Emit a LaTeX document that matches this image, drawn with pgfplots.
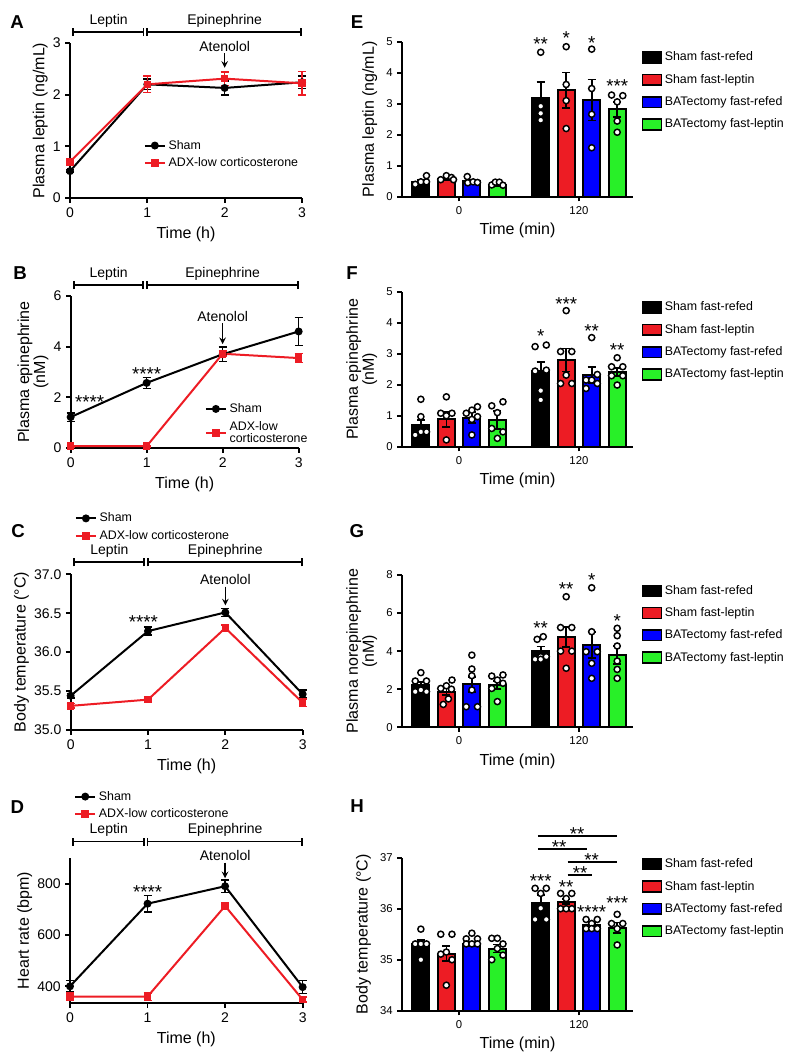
\documentclass[border=0pt]{standalone}
\usepackage{fontspec}
\setmainfont{Liberation Sans}
\usepackage{pgfplots}
\pgfplotsset{compat=1.18}

\definecolor{myred}{RGB}{237,28,36}
\definecolor{myblue}{RGB}{0,0,255}
\definecolor{mygreen}{RGB}{40,240,40}

\newcommand{\fs}[1]{\fontsize{#1}{#1}\selectfont}
% significance stars
\newcommand{\sig}[3]{\node[font=\fs{14}, inner sep=0pt, yshift=-3.2pt] at (axis cs:#1,#2) {#3};}
% treatment bracket over the line charts: x1, x2, y
\newcommand{\tb}[3]{%
  \draw[line width=1.3pt] (axis cs:#1,#3) -- (axis cs:#2,#3);
  \draw[line width=1.3pt] ([yshift=-3pt]axis cs:#1,#3) -- ([yshift=3pt]axis cs:#1,#3);
  \draw[line width=1.3pt] ([yshift=-3pt]axis cs:#2,#3) -- ([yshift=3pt]axis cs:#2,#3);}
\newcommand{\tlab}[3]{\node[font=\fs{10.5}] at ([yshift=8.5pt]axis cs:#1,#2) {#3};}
\newcommand{\aten}[3]{%
  \node[font=\fs{10.5}] at (axis cs:2,#1) {Atenolol};
  \draw[-stealth, line width=1.2pt] (axis cs:2,#2) -- (axis cs:2,#3);}

\pgfplotsset{
  base/.style={scale only axis, axis lines=left, axis line style={-, line width=1.7pt},
    tick style={black, line width=1.3pt}, tick align=outside, major tick length=3.5pt,
    /pgf/number format/assume math mode=true},
  lineax/.style={base, width=174pt, xmin=0, xmax=3, xtick={0,1,2,3}, clip=false,
    xlabel={Time (h)}, xlabel style={font=\fs{12}},
    ylabel style={font=\fs{12}, align=center}, ylabel shift=-3pt,
    tick label style={font=\fs{10.5}},
    legend cell align=left,
    legend style={draw=none, fill=none, font=\fs{9.3}, row sep=1pt, anchor=north west, cells={align=left}},
    legend image code/.code={\draw[mark repeat=2, mark phase=2, ##1] plot coordinates {(0pt,0pt) (7.5pt,0pt) (15pt,0pt)};}},
  sham/.style={black, line width=1.5pt, mark=*, mark size=2.2pt,
    error bars/y dir=both, error bars/y explicit,
    error bars/error bar style={line width=1.2pt, solid},
    error bars/error mark options={rotate=90, mark size=3pt, line width=1.2pt}},
  adx/.style={sham, myred, mark=square*, mark size=2.1pt},
  barax/.style={base, width=173.25pt, xmin=-2.24, xmax=6.82, xtick={0,4.7}, xticklabels={0,120},
    clip=true, clip mode=individual,
    xlabel={Time (min)}, xlabel style={font=\fs{12}},
    ylabel style={font=\fs{12}, align=center},
    tick label style={font=\fs{8.5}},
    legend cell align=left,
    legend style={draw=none, fill=none, font=\fs{9.3}, row sep=4.5pt, at={(1.02,0.97)}, anchor=north west}},
  bar/.style={ybar, bar width=0.66, bar shift=0pt, fill=#1, draw=black, line width=1.5pt,
    error bars/y dir=both, error bars/y explicit,
    error bars/error bar style={line width=1.3pt, black},
    error bars/error mark options={rotate=90, mark size=3pt, line width=1.3pt, black},
    legend image code/.code={\draw[fill=#1, draw=black, line width=1.2pt] (0pt,-4pt) rectangle (14pt,4pt);}},
  dots/.style={forget plot, only marks, mark=*, mark size=2.3pt, mark options={fill=white, draw=black, line width=1.1pt}},
}

\begin{document}
\begin{tikzpicture}
\useasboundingbox (0,0) rectangle (591.75pt,795.75pt);

% panel letters
\begin{scope}[every node/.style={font=\bfseries\fs{14}}]
\node at (12.75pt,779.25pt) {A};
\node at (15pt,591pt) {B};
\node at (13.5pt,397.5pt) {C};
\node at (13.1pt,190.7pt) {D};
\node at (267.75pt,779.5pt) {E};
\node at (264pt,591pt) {F};
\node at (267.75pt,397.5pt) {G};
\node at (267.75pt,191.4pt) {H};
\end{scope}

% ---------------- A
\begin{axis}[lineax, at={(52.5pt,647.25pt)}, anchor=south west, height=116.25pt,
  ymin=0, ymax=3, ytick={0,1,2,3}, ylabel={Plasma leptin (ng/mL)},
  legend style={at={(0.30,0.41)}}]
\addplot[sham] coordinates {(0,0.52) +- (0,0.03) (1,2.2) +- (0,0.1) (2,2.13) +- (0,0.14) (3,2.24) +- (0,0.12)};
\addlegendentry{Sham}
\addplot[adx] coordinates {(0,0.7) +- (0,0.06) (1,2.2) +- (0,0.16) (2,2.31) +- (0,0.13) (3,2.22) +- (0,0.23)};
\addlegendentry{ADX-low corticosterone}
\tb{0.04}{0.95}{3.21}\tb{1.0}{2.99}{3.21}
\tlab{0.5}{3.21}{Leptin}\tlab{2}{3.21}{Epinephrine}
\aten{2.93}{2.80}{2.52}
\end{axis}

% ---------------- B
\begin{axis}[lineax, at={(53pt,459.75pt)}, anchor=south west, width=171pt, height=114pt,
  ymin=0, ymax=6, ytick={0,2,4,6}, ylabel={Plasma epinephrine\\(nM)},
  legend style={at={(0.57,0.33)}}]
\addplot[sham] coordinates {(0,1.22) +- (0,0.17) (1,2.57) +- (0,0.22) (2,3.7) +- (0,0.28) (3,4.6) +- (0,0.55)};
\addlegendentry{Sham}
\addplot[adx] coordinates {(0,0.07) +- (0,0.02) (1,0.07) +- (0,0.02) (2,3.72) +- (0,0.1) (3,3.55) +- (0,0.18)};
\addlegendentry{ADX-low\\corticosterone}
\tb{0.04}{0.95}{6.43}\tb{1.0}{2.99}{6.43}
\tlab{0.5}{6.43}{Leptin}\tlab{2}{6.43}{Epinephrine}
\aten{5.18}{4.93}{4.1}
\sig{0.25}{2.0}{****}
\sig{1.0}{3.08}{****}
\end{axis}

% ---------------- C
\begin{axis}[lineax, at={(53pt,248.25pt)}, anchor=south west, height=116.8pt,
  ymin=35, ymax=37, ytick={35,35.5,36,36.5,37}, ylabel={Body temperature (°C)},
  yticklabel style={/pgf/number format/fixed, /pgf/number format/fixed zerofill, /pgf/number format/precision=1},
  legend style={at={(0.0,1.43)}}]
\addplot[sham] coordinates {(0,35.44) +- (0,0.03) (1,36.27) +- (0,0.05) (2,36.51) +- (0,0.05) (3,35.46) +- (0,0.05)};
\addlegendentry{Sham}
\addplot[adx] coordinates {(0,35.31) +- (0,0.03) (1,35.39) +- (0,0.03) (2,36.31) +- (0,0.04) (3,35.35) +- (0,0.05)};
\addlegendentry{ADX-low corticosterone}
\tb{0.04}{0.95}{37.154}\tb{1.0}{2.99}{37.154}
\tlab{0.5}{37.154}{Leptin}\tlab{2}{37.154}{Epinephrine}
\aten{36.93}{36.84}{36.6}
\sig{0.94}{36.44}{****}
\end{axis}

% ---------------- D
\begin{axis}[lineax, at={(52.5pt,43.5pt)}, anchor=south west, width=174.5pt, height=108.75pt,
  ymin=335, ymax=900, ytick={400,600,800}, ylabel={Heart rate (bpm)},
  legend style={at={(0.0,1.5)}}]
\addplot[sham] coordinates {(0,400) +- (0,22) (1,722) +- (0,32) (2,790) +- (0,25) (3,397) +- (0,25)};
\addlegendentry{Sham}
\addplot[adx] coordinates {(0,360) +- (0,15) (1,360) +- (0,15) (2,713) +- (0,12) (3,348) +- (0,10)};
\addlegendentry{ADX-low corticosterone}
\tb{0.04}{0.95}{964}\tb{1.0}{2.99}{964}
\tlab{0.5}{964}{Leptin}\tlab{2}{964}{Epinephrine}
\aten{908}{882}{821}
\sig{1.0}{782}{****}
\end{axis}

% ---------------- E
\begin{axis}[barax, at={(301.5pt,648.2pt)}, anchor=south west, height=116.25pt,
  ymin=0, ymax=5, ytick={0,1,2,3,4,5}, ylabel={Plasma leptin (ng/mL)}]
\addplot[bar=black] coordinates {(-1.5,0.48) +- (0,0.06) (3.2,3.19) +- (0,0.52)};
\addlegendentry{Sham fast-refed}
\addplot[bar=myred] coordinates {(-0.5,0.56) +- (0,0.04) (4.2,3.44) +- (0,0.57)};
\addlegendentry{Sham fast-leptin}
\addplot[bar=myblue] coordinates {(0.5,0.50) +- (0,0.05) (5.2,3.12) +- (0,0.66)};
\addlegendentry{BATectomy fast-refed}
\addplot[bar=mygreen] coordinates {(1.5,0.38) +- (0,0.03) (6.2,2.82) +- (0,0.24)};
\addlegendentry{BATectomy fast-leptin}
\addplot[dots] coordinates {(-1.72,0.40) (-1.5,0.48) (-1.28,0.48) (-1.28,0.68) (3.2,4.66) (3.2,2.92) (3.2,2.69) (3.2,2.47)};
\addplot[dots] coordinates {(-0.72,0.55) (-0.5,0.68) (-0.3,0.62) (-0.22,0.55) (4.2,4.84) (4.2,3.62) (4.2,3.1) (4.2,2.2)};
\addplot[dots] coordinates {(0.32,0.65) (0.34,0.45) (0.55,0.48) (0.72,0.46) (5.2,4.76) (5.2,3.49) (5.2,2.66) (5.2,1.58)};
\addplot[dots] coordinates {(1.28,0.38) (1.42,0.47) (1.58,0.47) (1.72,0.37) (5.98,3.28) (6.42,3.26) (6.2,3.06) (6.2,2.44) (6.2,2.08)};
\sig{3.2}{5.05}{**}\sig{4.2}{5.27}{*}\sig{5.2}{5.1}{*}\sig{6.2}{3.72}{***}
\end{axis}

% ---------------- F
\begin{axis}[barax, at={(301.5pt,460.7pt)}, anchor=south west, height=116.25pt,
  ymin=0, ymax=5, ytick={0,1,2,3,4,5}, ylabel={Plasma epinephrine\\(nM)}]
\addplot[bar=black] coordinates {(-1.5,0.70) +- (0,0.16) (3.2,2.44) +- (0,0.30)};
\addlegendentry{Sham fast-refed}
\addplot[bar=myred] coordinates {(-0.5,0.88) +- (0,0.25) (4.2,2.8) +- (0,0.37)};
\addlegendentry{Sham fast-leptin}
\addplot[bar=myblue] coordinates {(0.5,0.94) +- (0,0.17) (5.2,2.31) +- (0,0.27)};
\addlegendentry{BATectomy fast-refed}
\addplot[bar=mygreen] coordinates {(1.5,0.86) +- (0,0.29) (6.2,2.4) +- (0,0.13)};
\addlegendentry{BATectomy fast-leptin}
\addplot[dots] coordinates {(-1.5,1.53) (-1.5,0.97) (-1.72,0.38) (-1.5,0.48) (-1.28,0.48) (2.98,3.23) (3.42,3.28) (2.98,2.44) (3.42,2.47) (3.2,1.81) (3.2,1.51)};
\addplot[dots] coordinates {(-0.5,1.61) (-0.72,1.08) (-0.28,1.08) (-0.5,1.0) (-0.5,0.22) (4.2,4.39) (3.98,3.07) (4.42,3.07) (4.2,2.31) (3.98,2.04) (4.42,2.04)};
\addplot[dots] coordinates {(0.28,1.08) (0.5,1.18) (0.72,1.29) (0.72,0.97) (0.5,0.88) (0.5,0.38) (5.2,3.52) (5.42,2.33) (4.98,2.15) (5.2,2.15) (5.42,2.04) (4.98,1.88)};
\addplot[dots] coordinates {(1.28,1.32) (1.72,1.45) (1.5,1.1) (1.28,0.59) (1.72,0.48) (1.5,0.27) (6.2,2.87) (5.98,2.58) (6.42,2.58) (5.98,2.29) (6.42,2.29) (6.2,1.99)};
\sig{3.2}{3.71}{*}\sig{4.2}{4.73}{***}\sig{5.2}{3.87}{**}\sig{6.2}{3.25}{**}
\end{axis}

% ---------------- G
\begin{axis}[barax, at={(301.5pt,250.3pt)}, anchor=south west, height=114.2pt,
  ymin=0, ymax=8, ytick={0,2,4,6,8}, ylabel={Plasma norepinephrine\\(nM)}]
\addplot[bar=black] coordinates {(-1.5,2.22) +- (0,0.15) (3.2,4.01) +- (0,0.23)};
\addlegendentry{Sham fast-refed}
\addplot[bar=myred] coordinates {(-0.5,1.87) +- (0,0.18) (4.2,4.73) +- (0,0.52)};
\addlegendentry{Sham fast-leptin}
\addplot[bar=myblue] coordinates {(0.5,2.26) +- (0,0.4) (5.2,4.33) +- (0,0.69)};
\addlegendentry{BATectomy fast-refed}
\addplot[bar=mygreen] coordinates {(1.5,2.22) +- (0,0.2) (6.2,3.8) +- (0,0.47)};
\addlegendentry{BATectomy fast-leptin}
\addplot[dots] coordinates {(-1.5,2.87) (-1.72,2.43) (-1.28,2.43) (-1.72,1.87) (-1.5,1.96) (-1.28,1.87) (3.06,4.62) (3.3,4.76) (2.98,3.57) (3.2,3.71) (3.42,3.71) (3.2,3.57)};
\addplot[dots] coordinates {(-0.28,2.48) (-0.72,2.04) (-0.5,2.18) (-0.3,2.0) (-0.62,1.2) (-0.42,1.49) (4.2,6.86) (3.98,5.24) (4.42,5.24) (3.98,4.0) (4.42,4.0) (4.2,3.1)};
\addplot[dots] coordinates {(0.5,3.79) (0.5,3.06) (0.5,2.71) (0.5,1.96) (0.28,1.08) (0.72,1.08) (5.2,7.33) (5.2,5.02) (4.98,3.97) (5.42,3.97) (5.2,3.36) (5.2,2.57)};
\addplot[dots] coordinates {(1.28,2.69) (1.72,2.75) (1.5,2.48) (1.72,2.31) (1.28,2.04) (1.5,1.35) (6.2,5.2) (6.2,4.81) (6.2,4.27) (6.2,3.48) (6.2,3.04) (6.2,2.57)};
\sig{3.2}{5.41}{**}\sig{4.2}{7.47}{**}\sig{5.2}{7.96}{*}\sig{6.2}{5.81}{*}
\end{axis}

% ---------------- H
\begin{axis}[barax, at={(301.5pt,37.7pt)}, anchor=south west, height=114.75pt,
  ymin=34, ymax=37, ytick={34,35,36,37}, ylabel={Body temperature (°C)},
  legend style={at={(1.02,1.03)}}]
\addplot[bar=black] coordinates {(-1.5,35.3) +- (0,0.08) (3.2,36.12) +- (0,0.15)};
\addlegendentry{Sham fast-refed}
\addplot[bar=myred] coordinates {(-0.5,35.12) +- (0,0.15) (4.2,36.14) +- (0,0.05)};
\addlegendentry{Sham fast-leptin}
\addplot[bar=myblue] coordinates {(0.5,35.3) +- (0,0.04) (5.2,35.68) +- (0,0.04)};
\addlegendentry{BATectomy fast-refed}
\addplot[bar=mygreen] coordinates {(1.5,35.22) +- (0,0.08) (6.2,35.63) +- (0,0.1)};
\addlegendentry{BATectomy fast-leptin}
\addplot[dots] coordinates {(-1.5,35.6) (-1.72,35.31) (-1.5,35.31) (-1.28,35.31) (-1.5,35.0) (2.98,36.4) (3.42,36.4) (3.2,36.3) (3.2,36.01) (2.98,35.79) (3.42,35.79)};
\addplot[dots] coordinates {(-0.72,35.5) (-0.28,35.5) (-0.72,35.11) (-0.28,35.0) (-0.5,34.5) (-0.5,35.15) (3.98,36.3) (4.42,36.3) (4.2,36.2) (3.98,36.0) (4.2,36.0) (4.42,36.0)};
\addplot[dots] coordinates {(0.5,35.52) (0.28,35.41) (0.72,35.41) (0.28,35.31) (0.5,35.31) (0.72,35.31) (4.98,35.79) (5.42,35.79) (5.2,35.71) (4.98,35.61) (5.2,35.61) (5.42,35.61)};
\addplot[dots] coordinates {(1.28,35.42) (1.5,35.42) (1.72,35.31) (1.5,35.22) (1.72,35.09) (1.28,35.0) (6.2,35.89) (5.98,35.71) (6.42,35.71) (6.2,35.61) (6.2,35.29)};
\sig{3.2}{36.63}{***}\sig{4.2}{36.51}{**}\sig{5.2}{36.01}{****}\sig{6.2}{36.2}{***}
\draw[line width=1.3pt] (axis cs:3.09,37.43) -- (axis cs:6.18,37.43);
\draw[line width=1.3pt] (axis cs:3.09,37.17) -- (axis cs:5.01,37.17);
\draw[line width=1.3pt] (axis cs:4.26,36.92) -- (axis cs:6.18,36.92);
\draw[line width=1.3pt] (axis cs:4.26,36.66) -- (axis cs:5.2,36.66);
\sig{4.63}{37.55}{**}\sig{3.92}{37.29}{**}\sig{5.2}{37.04}{**}\sig{4.75}{36.78}{**}
\end{axis}
\end{tikzpicture}
\end{document}
